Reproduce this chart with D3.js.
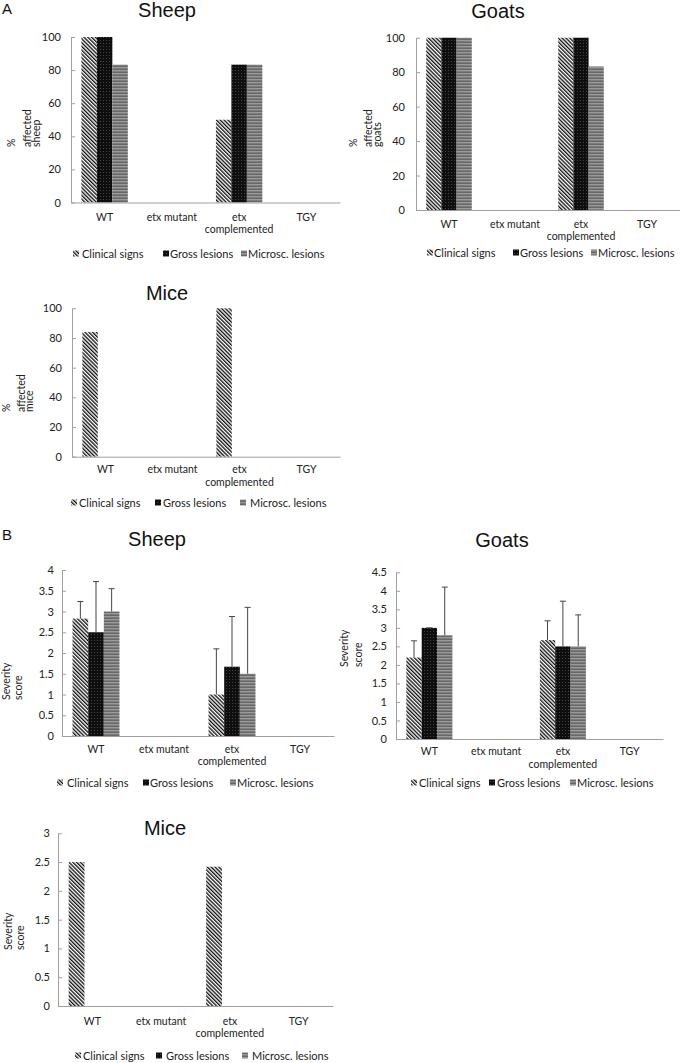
<!DOCTYPE html>
<html><head><meta charset="utf-8">
<script src="https://cdn.jsdelivr.net/npm/d3@7"></script>
<style>body{margin:0;background:#fff}svg{display:block}</style>
</head><body>
<svg id="c" width="680" height="1063"></svg>
<script>
// ---------- DATA ----------
const categories = ["WT", "etx mutant", "etx complemented", "TGY"];
const seriesNames = ["Clinical signs", "Gross lesions", "Microsc. lesions"];

const pctTicks = [0, 20, 40, 60, 80, 100];
const sheepScoreTicks = [0, 0.5, 1, 1.5, 2, 2.5, 3, 3.5, 4];
const goatScoreTicks = [0, 0.5, 1, 1.5, 2, 2.5, 3, 3.5, 4, 4.5];
const miceScoreTicks = [0, 0.5, 1, 1.5, 2, 2.5, 3];

// Panel A: % affected
const sheepPctClinical = [100, 0, 50, 0];
const sheepPctGross    = [100, 0, 83.3, 0];
const sheepPctMicro    = [83.3, 0, 83.3, 0];
const goatPctClinical  = [100, 0, 100, 0];
const goatPctGross     = [100, 0, 100, 0];
const goatPctMicro     = [100, 0, 83.3, 0];
const micePctClinical  = [84, 0, 100, 0];
const micePctGross     = [0, 0, 0, 0];
const micePctMicro     = [0, 0, 0, 0];

// Panel B: severity score (mean and SD)
const sheepScoreClinical   = [2.83, 0, 1.0, 0];
const sheepScoreClinicalSD = [0.41, 0, 1.1, 0];
const sheepScoreGross      = [2.5, 0, 1.67, 0];
const sheepScoreGrossSD    = [1.22, 0, 1.21, 0];
const sheepScoreMicro      = [3.0, 0, 1.5, 0];
const sheepScoreMicroSD    = [0.55, 0, 1.6, 0];
const goatScoreClinical    = [2.2, 0, 2.67, 0];
const goatScoreClinicalSD  = [0.45, 0, 0.52, 0];
const goatScoreGross       = [3.0, 0, 2.5, 0];
const goatScoreGrossSD     = [0, 0, 1.22, 0];
const goatScoreMicro       = [2.8, 0, 2.5, 0];
const goatScoreMicroSD     = [1.3, 0, 0.85, 0];
const miceScoreClinical    = [2.5, 0, 2.42, 0];
const miceScoreGross       = [0, 0, 0, 0];
const miceScoreMicro       = [0, 0, 0, 0];

// ---------- LAYOUT ----------
const charts = [
  {title:"Sheep", values:[sheepPctClinical, sheepPctGross, sheepPctMicro], sd:null, max:100, ticks:pctTicks,
   x0:71, x1:340, yTop:37, yBot:202.5, pad:10, tx:167, ty:17,
   ylab:["%","affected","sheep"], ylabX:[15,31,40], ylabY:147, catY:[221,233],
   legY:258, leg:[[73,82],[163,170],[241,248]]},
  {title:"Goats", values:[goatPctClinical, goatPctGross, goatPctMicro], sd:null, max:100, ticks:pctTicks,
   x0:416, x1:680, yTop:37.7, yBot:210, pad:11, tx:498, ty:18,
   ylab:["%","affected","goats"], ylabX:[357,372,381], ylabY:147, catY:[228,240],
   legY:257, leg:[[427,434],[513,520],[591,598]]},
  {title:"Mice", values:[micePctClinical, micePctGross, micePctMicro], sd:null, max:100, ticks:pctTicks,
   x0:72, x1:340, yTop:308.3, yBot:456.7, pad:10, tx:167, ty:300,
   ylab:["%","affected","mice"], ylabX:[9.5,24.5,33], ylabY:412, catY:[473,486],
   legY:507, leg:[[71,79],[155,163],[240,250]]},
  {title:"Sheep", values:[sheepScoreClinical, sheepScoreGross, sheepScoreMicro],
   sd:[sheepScoreClinicalSD, sheepScoreGrossSD, sheepScoreMicroSD], max:4, ticks:sheepScoreTicks,
   x0:62, x1:334, yTop:570, yBot:736, pad:8, tx:157, ty:546,
   ylab:["Severity","score"], ylabX:[10,22], ylabY:700, catY:[753,765],
   legY:787, leg:[[57,67],[143,150],[230,237]]},
  {title:"Goats", values:[goatScoreClinical, goatScoreGross, goatScoreMicro],
   sd:[goatScoreClinicalSD, goatScoreGrossSD, goatScoreMicroSD], max:4.5, ticks:goatScoreTicks,
   x0:396, x1:663, yTop:572.3, yBot:739, pad:9, tx:502, ty:547,
   ylab:["Severity","score"], ylabX:[348,362], ylabY:667, catY:[755,768],
   legY:787, leg:[[411,419],[489,497],[570,577]]},
  {title:"Mice", values:[miceScoreClinical, miceScoreGross, miceScoreMicro], sd:null, max:3, ticks:miceScoreTicks,
   x0:58, x1:333, yTop:833.3, yBot:1006, pad:8, tx:165, ty:835,
   ylab:["Severity","score"], ylabX:[12,24], ylabY:950, catY:[1025,1037],
   legY:1060, leg:[[75,83],[156,166],[242,252]]}
];

const svg = d3.select("#c");
const defs = svg.append("defs");
// Clinical signs: black diagonal hatching
const p1 = defs.append("pattern").attr("id","pat0").attr("patternUnits","userSpaceOnUse")
  .attr("width",2.7).attr("height",2.7).attr("patternTransform","rotate(-45)");
p1.append("rect").attr("width",2.7).attr("height",2.7).attr("fill","#fff");
p1.append("rect").attr("width",1.35).attr("height",2.7).attr("fill","#111");
// Gross lesions: black with small white dots
const p2 = defs.append("pattern").attr("id","pat1").attr("patternUnits","userSpaceOnUse")
  .attr("width",3).attr("height",3);
p2.append("rect").attr("width",3).attr("height",3).attr("fill","#0e0e0e");
p2.append("rect").attr("x",1).attr("y",1).attr("width",0.8).attr("height",0.8).attr("fill","#fff").attr("opacity",0.35);
// Microsc. lesions: grey horizontal streaks
const p3 = defs.append("pattern").attr("id","pat2").attr("patternUnits","userSpaceOnUse")
  .attr("width",4).attr("height",3);
p3.append("rect").attr("width",4).attr("height",1).attr("fill","#686868");
p3.append("rect").attr("y",1).attr("width",4).attr("height",1).attr("fill","#9a9a9a");
p3.append("rect").attr("y",2).attr("width",4).attr("height",1).attr("fill","#7c7c7c");

const FONT = "Lato, 'Open Sans', sans-serif";
const AXIS = "#a0a0a0";

// Panel letters
svg.append("text").attr("x",2).attr("y",14).text("A")
  .attr("font-family","'Liberation Sans', Arial, sans-serif").attr("font-size",15).attr("fill","#111");
svg.append("text").attr("x",2).attr("y",540).text("B")
  .attr("font-family","'Liberation Sans', Arial, sans-serif").attr("font-size",15).attr("fill","#111");

charts.forEach(cfg => {
  const g = svg.append("g");
  const x = d3.scaleBand().domain(categories).range([cfg.x0, cfg.x1]).paddingInner(0.31).paddingOuter(0.155);
  const xs = d3.scaleBand().domain(seriesNames).range([0, x.bandwidth()]);
  const y = d3.scaleLinear().domain([0, cfg.max]).range([cfg.yBot, cfg.yTop]);

  // y axis
  const ya = g.append("g").attr("transform", `translate(${cfg.x0},0)`)
    .call(d3.axisLeft(y).tickValues(cfg.ticks).tickSizeInner(-4).tickSizeOuter(0)
      .tickPadding(cfg.pad).tickFormat(d => String(d)));
  ya.selectAll("path,line").attr("stroke", AXIS);
  ya.selectAll("text").attr("font-family", FONT).attr("font-size", 11).attr("fill", "#222");

  // bars
  seriesNames.forEach((s, si) => {
    const vals = cfg.values[si];
    g.append("g").selectAll("rect").data(categories.map((c, i) => ({c, v: vals[i]})).filter(d => d.v > 0))
      .join("rect")
      .attr("x", d => x(d.c) + xs(s))
      .attr("width", xs.bandwidth())
      .attr("y", d => y(d.v))
      .attr("height", d => cfg.yBot - y(d.v))
      .attr("fill", `url(#pat${si})`);
  });

  // error bars
  if (cfg.sd) {
    seriesNames.forEach((s, si) => {
      const vals = cfg.values[si], sds = cfg.sd[si];
      const eb = categories.map((c, i) => ({c, v: vals[i], e: sds[i]})).filter(d => d.v > 0);
      const eg = g.append("g").attr("stroke", "#444").attr("stroke-width", 1);
      eb.forEach(d => {
        const cx = x(d.c) + xs(s) + xs.bandwidth() / 2;
        eg.append("line").attr("x1", cx).attr("x2", cx).attr("y1", y(d.v)).attr("y2", y(d.v + d.e));
        eg.append("line").attr("x1", cx - 3).attr("x2", cx + 3).attr("y1", y(d.v + d.e)).attr("y2", y(d.v + d.e));
      });
    });
  }

  // x axis
  const xa = g.append("g").attr("transform", `translate(0,${cfg.yBot})`)
    .call(d3.axisBottom(x).tickSize(0).tickSizeOuter(0));
  xa.select(".domain").attr("stroke", AXIS);
  xa.selectAll("text").each(function(d) {
    const t = d3.select(this).text(null).attr("y", null).attr("dy", null)
      .attr("font-family", FONT).attr("font-size", 10.5).attr("fill", "#222");
    const lines = d.length > 12 ? [d.slice(0, d.indexOf(" ")), d.slice(d.indexOf(" ") + 1)] : [d];
    lines.forEach((ln, li) => t.append("tspan").attr("x", 0).attr("y", cfg.catY[li] - cfg.yBot).text(ln));
  });

  // title
  g.append("text").attr("x", cfg.tx).attr("y", cfg.ty).attr("text-anchor", "middle")
    .attr("font-family", "'Liberation Sans', Arial, sans-serif").attr("font-size", 20).attr("fill", "#111")
    .text(cfg.title);

  // y label
  cfg.ylab.forEach((ln, li) => {
    g.append("text").attr("transform", `translate(${cfg.ylabX[li]},${cfg.ylabY}) rotate(-90)`)
      .attr("font-family", FONT).attr("font-size", 10.5).attr("fill", "#222").text(ln);
  });

  // legend
  seriesNames.forEach((s, si) => {
    const [sx, tx] = cfg.leg[si];
    g.append("rect").attr("x", sx).attr("y", cfg.legY - 7.5).attr("width", 6).attr("height", 6)
      .attr("fill", `url(#pat${si})`);
    g.append("text").attr("x", tx).attr("y", cfg.legY).attr("font-family", FONT).attr("font-size", 11)
      .attr("fill", "#222").text(s);
  });
});
</script>
</body></html>
